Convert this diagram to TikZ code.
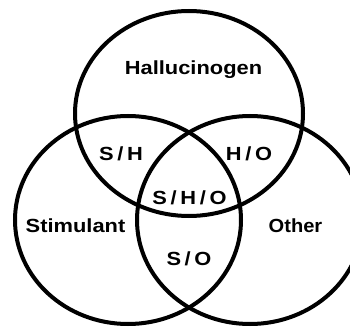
\documentclass[tikz,border=0pt]{standalone}
\usepackage{fontspec}
\setmainfont{Liberation Sans}
\usetikzlibrary{positioning}

\begin{document}
\begin{tikzpicture}[x=1pt,y=-1pt,
  ring/.style={line width=4pt},
  lbl/.style={font=\fontsize{19}{22}\selectfont\bfseries,inner sep=0pt,
              anchor=base,xscale=1.15,transform shape}]
  \useasboundingbox (0,0) rectangle (350,326);
  \clip (0,0) rectangle (350,326);
  % three sets
  \draw[ring] (189,113.5) ellipse [x radius=114, y radius=102.5];
  \draw[ring] (128,220) ellipse [x radius=113, y radius=104];
  \draw[ring] (250,220) ellipse [x radius=113, y radius=104];
  % set names
  \node[lbl] (H) at (193.5,74.3) {Hallucinogen};
  \node[lbl] (S) at (75.5,232) {Stimulant};
  \node[lbl,xscale=0.92] (O) at (295.5,232) {Other};
  % overlaps
  \node[lbl] (SH) at (121,160) {S\,/\,H};
  \node[lbl] (HO) at (249,160) {H\,/\,O};
  \node[lbl] (SHO) at (189.5,204) {S\,/\,H\,/\,O};
  \node[lbl] (SO) at (189,265) {S\,/\,O};
\end{tikzpicture}
\end{document}
